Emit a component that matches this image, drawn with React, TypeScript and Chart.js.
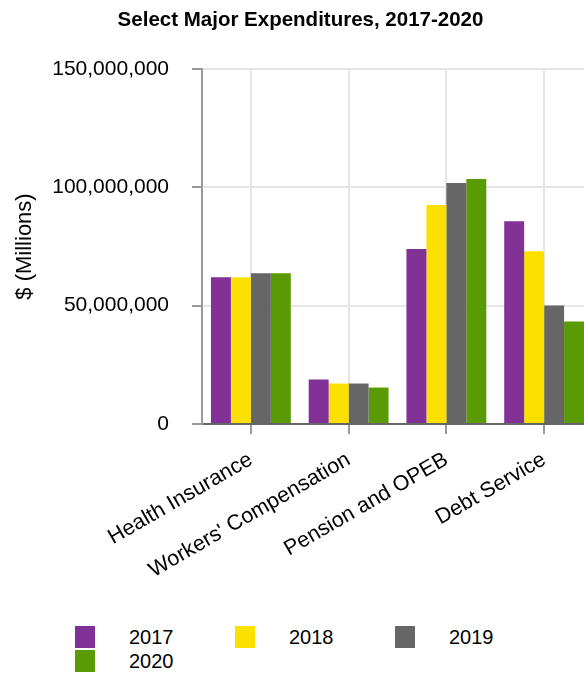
import React, { useEffect, useRef } from "react";
import { Chart, registerables } from "chart.js";

Chart.register(...registerables);

const categories = ["Health Insurance", "Workers' Compensation", "Pension and OPEB", "Debt Service"];
const years = ["2017", "2018", "2019", "2020"];
const values2017 = [62000000, 18800000, 73900000, 85700000];
const values2018 = [62000000, 17100000, 92500000, 73000000];
const values2019 = [63700000, 17100000, 101800000, 50100000];
const values2020 = [63700000, 15400000, 103500000, 43300000];
const seriesColors = ["#823296", "#FBE000", "#666666", "#5A9A05"];
const yMin = 0;
const yMax = 150000000;
const yStep = 50000000;

const FONT = "'Liberation Sans', Arial, Helvetica, sans-serif";
const CANVAS_W = 589;
const CANVAS_H = 600;

export default function App() {
  const canvasRef = useRef<HTMLCanvasElement | null>(null);

  useEffect(() => {
    const canvas = canvasRef.current;
    if (!canvas) return;
    const allValues = [values2017, values2018, values2019, values2020];
    const chart = new Chart(canvas, {
      type: "bar",
      data: {
        labels: categories,
        datasets: years.map((y, i) => ({
          label: y,
          data: allValues[i],
          backgroundColor: seriesColors[i],
          borderWidth: 0,
          barPercentage: 1,
          categoryPercentage: 0.817,
        })),
      },
      options: {
        responsive: false,
        animation: false,
        devicePixelRatio: 1,
        layout: { padding: { left: 0, right: 4, top: 0, bottom: 0 } },
        plugins: {
          legend: { display: false },
          tooltip: { enabled: false },
          title: {
            display: true,
            text: "Select Major Expenditures, 2017-2020",
            color: "#000",
            font: { family: FONT, size: 20.5, weight: "bold", lineHeight: 1.2 },
            padding: { top: 0, bottom: 36.4 },
          },
        },
        scales: {
          x: {
            type: "category",
            offset: true,
            grid: {
              display: true,
              offset: false,
              color: "#e6e6e6",
              lineWidth: 2,
              tickColor: "#999",
              tickLength: 10,
              drawTicks: true,
            },
            border: { display: true, color: "#666", width: 2 },
            ticks: {
              color: "#000",
              font: { family: FONT, size: 21.5 },
              minRotation: 30,
              maxRotation: 30,
              autoSkip: false,
              padding: 13,
            },
            afterFit: (scale: any) => {
              scale.height = CANVAS_H - 416;
            },
          },
          y: {
            min: yMin,
            max: yMax,
            grid: {
              color: "#e6e6e6",
              lineWidth: 2,
              tickColor: "#999",
              tickLength: 10,
            },
            border: { display: true, color: "#999", width: 2 },
            ticks: {
              stepSize: yStep,
              color: "#000",
              font: { family: FONT, size: 21 },
              padding: 23,
              callback: (v: any) => Number(v).toLocaleString("en-US"),
            },
            title: {
              display: true,
              text: "$ (Millions)",
              color: "#000",
              font: { family: FONT, size: 22 },
              padding: { top: 4, bottom: 4 },
            },
            afterFit: (scale: any) => {
              scale.width = 194;
            },
          },
        },
      },
    });
    return () => chart.destroy();
  }, []);

  return (
    <div style={{ position: "fixed", left: 0, top: 0, width: 584, height: 673, overflow: "hidden", background: "#fff" }}>
      <div style={{ position: "absolute", left: 8, top: 8, width: CANVAS_W, height: 680 }}>
        <canvas ref={canvasRef} width={CANVAS_W} height={CANVAS_H} style={{ display: "block", width: CANVAS_W, height: CANVAS_H }} />
        <div
          style={{
            position: "absolute",
            left: 67,
            top: 618,
            display: "grid",
            gridTemplateColumns: "160px 160px 160px",
            rowGap: 2,
            fontFamily: FONT,
            fontSize: 20,
            color: "#000",
          }}
        >
          {years.map((y, i) => (
            <div key={y} style={{ display: "flex", alignItems: "center", height: 22 }}>
              <span style={{ display: "inline-block", width: 20, height: 22, background: seriesColors[i] }} />
              <span style={{ marginLeft: 34, lineHeight: "22px" }}>{y}</span>
            </div>
          ))}
        </div>
      </div>
    </div>
  );
}
